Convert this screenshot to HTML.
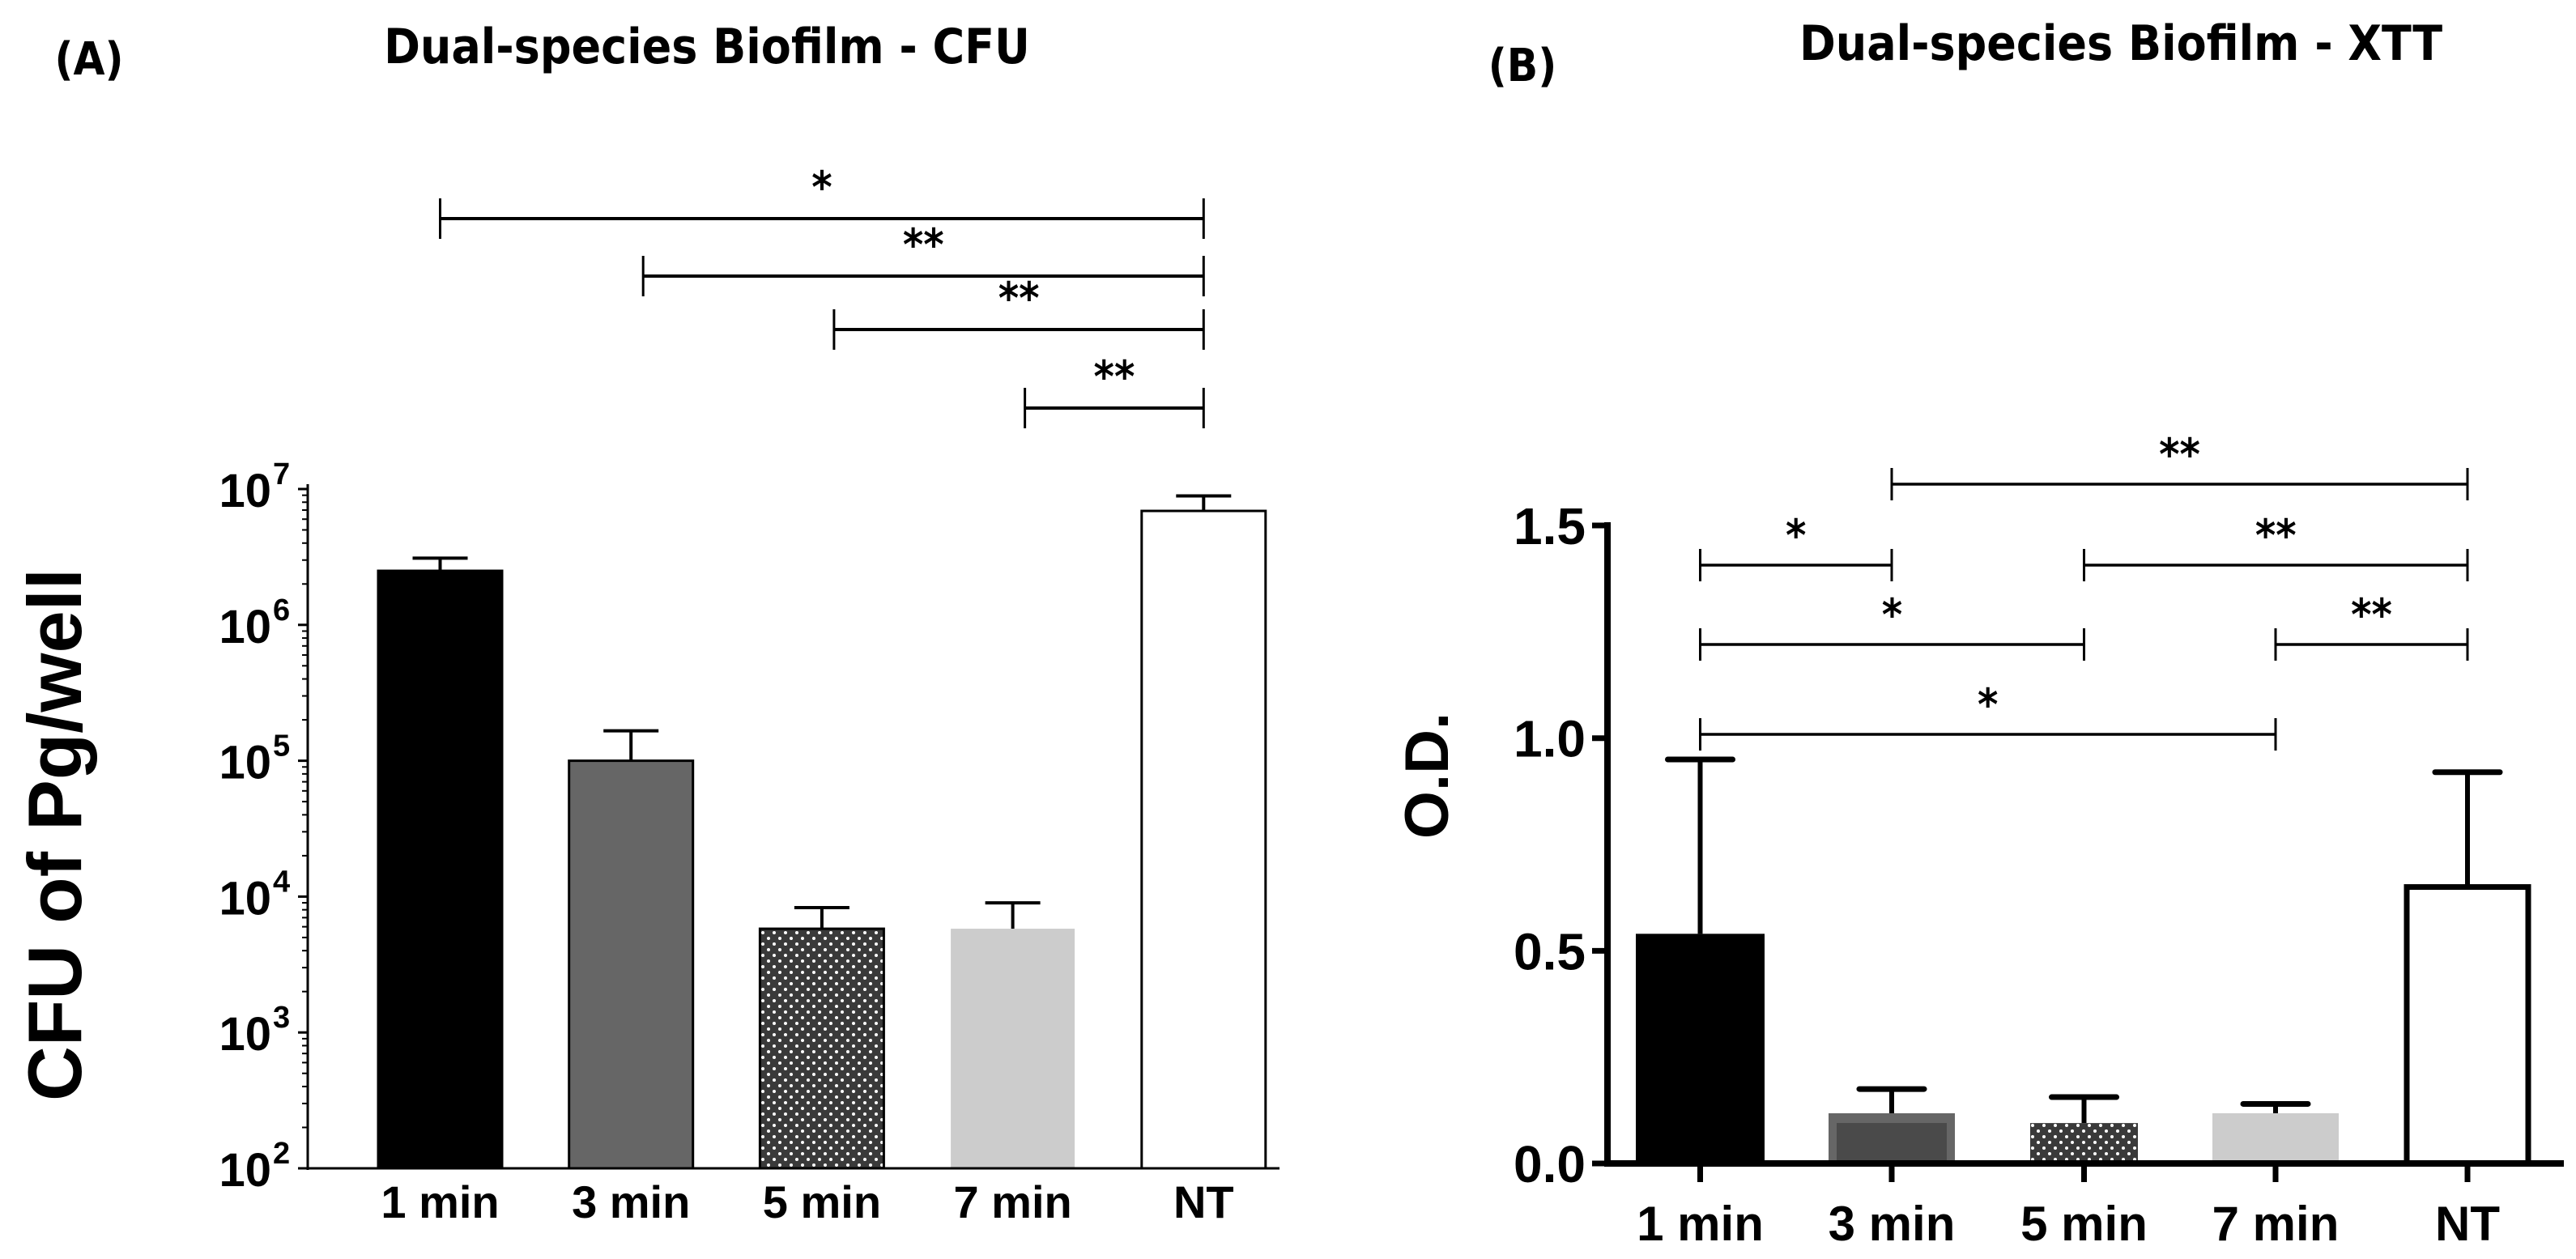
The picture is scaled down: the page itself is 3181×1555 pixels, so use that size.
<!DOCTYPE html>
<html><head><meta charset="utf-8"><style>
html,body{margin:0;padding:0;background:#fff;}
svg{display:block;}
.t{font-family:"Liberation Sans Narrow","Liberation Sans",sans-serif;font-weight:bold;}
.h{font-family:"DejaVu Sans Condensed","DejaVu Sans","Liberation Sans",sans-serif;font-weight:bold;}
</style></head><body>
<svg id="fig" width="3181" height="1555" viewBox="0 0 3181 1555" xmlns="http://www.w3.org/2000/svg">
<defs>
<pattern id="dots" width="14" height="14" patternUnits="userSpaceOnUse">
<rect width="14" height="14" fill="#3a3a3a"/><circle cx="4" cy="4" r="2" fill="#fff"/><circle cx="11" cy="11" r="2" fill="#fff"/>
</pattern>
</defs>
<g id="panelA"></g>
<g id="panelB"></g>
</svg>
<script>
const categories = ["1 min","3 min","5 min","7 min","NT"];
const cfuMeans = [2.5e6, 1.0e5, 5.8e3, 5.8e3, 6.9e6];
const cfuErr = [3.1e6, 1.66e5, 8.3e3, 9.0e3, 8.9e6];
const cfuTicks = [2,3,4,5,6,7];
const odMeans = [0.54, 0.118, 0.095, 0.118, 0.65];
const odErr = [0.95, 0.175, 0.156, 0.14, 0.92];
const odTicks = [0.0, 0.5, 1.0, 1.5];
const sigA = [[0,4,"*"],[1,4,"**"],[2,4,"**"],[3,4,"**"]];
const sigB = [[1,4,"**"],[0,1,"*"],[2,4,"**"],[0,2,"*"],[3,4,"**"],[0,3,"*"]];

const NS="http://www.w3.org/2000/svg";
function mk(parent,tag,attrs,text){const e=document.createElementNS(NS,tag);for(const k in attrs)e.setAttribute(k,attrs[k]);if(text!==undefined)e.textContent=text;parent.appendChild(e);return e;}
const svg=document.getElementById('fig');

let e;
e=mk(svg,'text',{x:110,y:92,'text-anchor':'middle','font-size':56,class:'h'},'(A)');


e=mk(svg,'text',{x:873,y:78,'text-anchor':'middle','font-size':60,class:'h'},'Dual-species Biofilm - CFU');


e=mk(svg,'text',{x:1880,y:100,'text-anchor':'middle','font-size':56,class:'h'},'(B)');


e=mk(svg,'text',{x:2619,y:74,'text-anchor':'middle','font-size':60,class:'h'},'Dual-species Biofilm - XTT');



// ===== Panel A =====
const gA=document.getElementById('panelA');
const aL=[467,702,937,1173,1410], aW=153;
const yA=v=>1443-(Math.log10(v)-2)*167.8;
const xA=i=>aL[0]+i*235.7;
const fillsA=['#000','#666','url(#dots)','#cccccc','#fff'];
const strokeA=['#000','#000','#000','none','#000'];
categories.forEach((c,i)=>{
  const x=xA(i),top=yA(cfuMeans[i]),ey=yA(cfuErr[i]),cx=x+aW/2;
  const l=mk(gA,'line',{x1:cx,y1:top,x2:cx,y2:ey,stroke:'#000','stroke-width':4});
  
  
  const cap=mk(gA,'line',{x1:cx-34,y1:ey,x2:cx+34,y2:ey,stroke:'#000','stroke-width':4});
  
  
  const r=mk(gA,'rect',{x:x,y:top,width:aW,height:1443-top,fill:fillsA[i],stroke:strokeA[i],'stroke-width':3});
  
  
  const t=mk(gA,'text',{x:cx,y:1504,'text-anchor':'middle','font-size':56,class:'t'},c);
  
  
});
let ax=mk(gA,'line',{x1:380,y1:598,x2:380,y2:1445,stroke:'#000','stroke-width':3});


ax=mk(gA,'line',{x1:378,y1:1443,x2:1580,y2:1443,stroke:'#000','stroke-width':3});


cfuTicks.forEach(p=>{
  const y=yA(Math.pow(10,p));
  const tk=mk(gA,'line',{x1:368,y1:y,x2:380,y2:y,stroke:'#000','stroke-width':3});
  
  
  if(p<7){for(let m=2;m<10;m++){const yy=yA(m*Math.pow(10,p));const mt=mk(gA,'line',{x1:373,y1:yy,x2:380,y2:yy,stroke:'#000','stroke-width':2});
    
    }}
  const t=mk(gA,'text',{x:335,y:y+22,'text-anchor':'end','font-size':58,class:'t'},'10');
  
  
  const s=mk(gA,'text',{x:337,y:y-6,'text-anchor':'start','font-size':38,class:'t'},String(p));
  
  
});
e=mk(gA,'text',{x:0,y:0,'text-anchor':'middle','font-size':94,'font-family':'Liberation Sans, sans-serif','font-weight':'bold',transform:'translate(100,1031) rotate(-90)'},'CFU of Pg/well');


const sigAy=[270,341,407,504];
sigA.forEach((s,k)=>{
  const x1=xA(s[0])+aW/2+(s[0]===0?0:15), x2=xA(s[1])+aW/2, y=sigAy[k];
  const g=mk(gA,'g',{});
  
  
  mk(g,'line',{x1:x1,y1:y,x2:x2,y2:y,stroke:'#000','stroke-width':4});
  mk(g,'line',{x1:x1,y1:y-25,x2:x1,y2:y+25,stroke:'#000','stroke-width':3});
  mk(g,'line',{x1:x2,y1:y-25,x2:x2,y2:y+25,stroke:'#000','stroke-width':3});
  mk(g,'text',{x:(x1+x2)/2,y:y-20,'text-anchor':'middle','font-size':54,class:'h'},s[2]);
});

// ===== Panel B =====
const gB=document.getElementById('panelB');
const bL=[2020,2258,2507,2732,2972], bW=[159,156,133,156,150];
const yB=v=>1437-v*525.3;
categories.forEach((c,i)=>{
  const x=bL[i],w=bW[i],cx=x+w/2,top=yB(odMeans[i]),ey=yB(odErr[i]);
  const l=mk(gB,'line',{x1:cx,y1:top,x2:cx,y2:ey,stroke:'#000','stroke-width':6});
  
  
  const cap=mk(gB,'line',{x1:cx-40,y1:ey,x2:cx+40,y2:ey,stroke:'#000','stroke-width':7,'stroke-linecap':'round'});
  
  
  let r;
  if(i===0) r=mk(gB,'rect',{x:x,y:top,width:w,height:1437-top,fill:'#000'});
  else if(i===1){r=mk(gB,'rect',{x:x,y:top,width:w,height:1437-top,fill:'#666'});
    const inner=mk(gB,'rect',{x:x+10,y:top+12,width:w-20,height:1437-top-12,fill:'#4a4a4a'});
    
    }
  else if(i===2) r=mk(gB,'rect',{x:x,y:top,width:w,height:1437-top,fill:'url(#dots)'});
  else if(i===3) r=mk(gB,'rect',{x:x,y:top,width:w,height:1437-top,fill:'#cccccc'});
  else r=mk(gB,'rect',{x:x,y:top,width:w,height:1437-top,fill:'#fff',stroke:'#000','stroke-width':7});
  
  
  const tk=mk(gB,'line',{x1:cx,y1:1437,x2:cx,y2:1460,stroke:'#000','stroke-width':7});
  
  
  const t=mk(gB,'text',{x:cx,y:1532,'text-anchor':'middle','font-size':60,class:'t'},c);
  
  
});
ax=mk(gB,'line',{x1:1985,y1:645,x2:1985,y2:1441,stroke:'#000','stroke-width':8});


ax=mk(gB,'line',{x1:1981,y1:1437,x2:3166,y2:1437,stroke:'#000','stroke-width':8});


odTicks.forEach(v=>{
  const y=yB(v);
  const tk=mk(gB,'line',{x1:1966,y1:y,x2:1985,y2:y,stroke:'#000','stroke-width':7});
  
  
  const t=mk(gB,'text',{x:1958,y:y+23,'text-anchor':'end','font-size':64,class:'t'},v.toFixed(1));
  
  
});
e=mk(gB,'text',{x:0,y:0,'text-anchor':'middle','font-size':76,'font-family':'Liberation Sans, sans-serif','font-weight':'bold',transform:'translate(1788,958) rotate(-90)'},'O.D.');


const sigBy=[598,698,698,796,796,907];
sigB.forEach((s,k)=>{
  const x1=bL[s[0]]+bW[s[0]]/2, x2=bL[s[1]]+bW[s[1]]/2, y=sigBy[k];
  const g=mk(gB,'g',{});
  
  
  mk(g,'line',{x1:x1,y1:y,x2:x2,y2:y,stroke:'#000','stroke-width':3.5});
  mk(g,'line',{x1:x1,y1:y-20,x2:x1,y2:y+20,stroke:'#000','stroke-width':3});
  mk(g,'line',{x1:x2,y1:y-20,x2:x2,y2:y+20,stroke:'#000','stroke-width':3});
  mk(g,'text',{x:(x1+x2)/2,y:y-18,'text-anchor':'middle','font-size':54,class:'h'},s[2]);
});
</script>
</body></html>
